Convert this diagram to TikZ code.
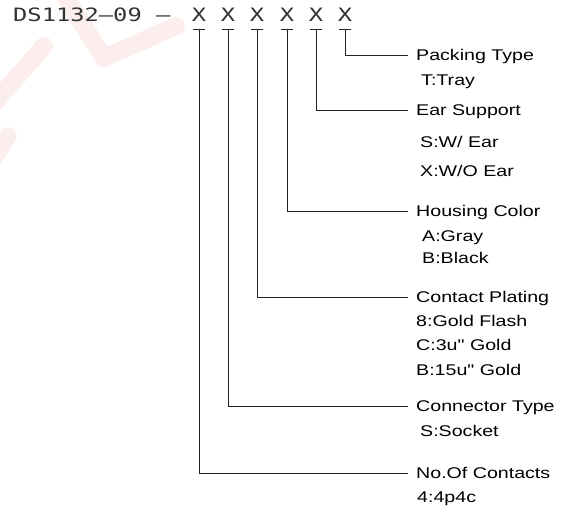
\documentclass[tikz,border=0pt]{standalone}
\usepackage{fontspec}
\setmainfont{Liberation Sans}
\newfontfamily\lblfont[FakeStretch=1.265]{Liberation Sans}
\newfontfamily\cadfont[FakeStretch=1.29]{DejaVu Sans Mono}
\usetikzlibrary{positioning}
\definecolor{wmred}{RGB}{253,238,238}
\definecolor{leadgray}{RGB}{35,35,35}

\begin{document}
\begin{tikzpicture}[
    x=1pt, y=-1pt,
    code/.style={font=\cadfont\fontsize{18.4}{20}\selectfont, text=black!80, inner sep=0pt, anchor=base west},
    xbox/.style={font=\cadfont\fontsize{18.4}{20}\selectfont, text=black!80, anchor=base, inner xsep=0pt, inner ysep=7.5pt, text depth=0pt},
    field/.style={font=\lblfont\fontsize{15.5}{18}\selectfont, anchor=west, inner xsep=8pt, inner ysep=0pt, text height=11pt, text depth=0pt},
    opt/.style={font=\lblfont\fontsize{15.5}{18}\selectfont, anchor=west, inner sep=0pt, text height=11pt, text depth=0pt},
    lead/.style={line width=0.7pt, leadgray}
]
    \useasboundingbox (0,0) rectangle (562,508);

    % watermark
    \draw[wmred, line width=18pt, line cap=round, line join=round] (-5,102) -- (44,46);
    \draw[wmred, line width=18pt, line cap=round, line join=round] (62,-8) -- (104,58) -- (176,26);
    \draw[wmred, line width=18pt, line cap=round] (-8,160) -- (8,136);

    % part number
    \node[code] (pn) at (13,21.7) {DS1132–09 –};
    \foreach \i/\px in {0/199,1/228,2/257,3/287,4/316,5/345}
        \node[xbox] (x\i) at (\px,21.7) {X};

    % fields
    \node[field] (pt) at (408,55) {Packing Type};
    \node[opt] (pt1) at (421,80) {T:Tray};

    \node[field] (es) at (408,110) {Ear Support};
    \node[opt] (es1) at (420,142) {S:W/ Ear};
    \node[opt] (es2) at (420,171) {X:W/O Ear};

    \node[field] (hc) at (408,211) {Housing Color};
    \node[opt] (hc1) at (422,236) {A:Gray};
    \node[opt] (hc2) at (422,258) {B:Black};

    \node[field] (cp) at (408,297) {Contact Plating};
    \node[opt] (cp1) at (416,321) {8:Gold Flash};
    \node[opt] (cp2) at (416,345) {C:3u" Gold};
    \node[opt] (cp3) at (416,370) {B:15u" Gold};

    \node[field] (ct) at (408,406) {Connector Type};
    \node[opt] (ct1) at (420,431) {S:Socket};

    \node[field] (nc) at (408,473) {No.Of Contacts};
    \node[opt] (nc1) at (417,497) {4:4p4c};

    % leaders
    \foreach \i/\t in {0/nc,1/ct,2/cp,3/hc,4/es,5/pt} {
        \draw[lead] ([xshift=-6pt]x\i.south) -- ([xshift=6pt]x\i.south);
        \draw[lead] (x\i.south) |- (\t.west);
    }
\end{tikzpicture}
\end{document}
